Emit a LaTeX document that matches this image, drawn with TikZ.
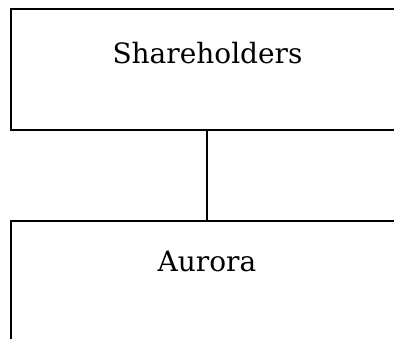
\documentclass[tikz,border=0pt]{standalone}
\usepackage{fontspec}
\setmainfont{DejaVu Serif}
\begin{document}
\begin{tikzpicture}[x=1pt,y=-1pt,
  box/.style={draw=black,line width=1.3pt,rectangle,inner sep=0pt,minimum width=392pt},
  lbl/.style={anchor=base,inner sep=0pt,font=\fontsize{28}{33}\selectfont}]
\useasboundingbox (0,0) rectangle (394,338);
\clip (0,0) rectangle (394,338);
\node[box,minimum height=121pt] (sh) at (207,69.5) {};
\node[box,minimum height=240pt] (au) at (207,341) {};
\node[lbl] (tsh) at (207.5,63) {Shareholders};
\node[lbl] (tau) at (207,271.5) {Aurora};
\draw[line width=1.3pt] (sh.south) -- (au.north);
\end{tikzpicture}
\end{document}
